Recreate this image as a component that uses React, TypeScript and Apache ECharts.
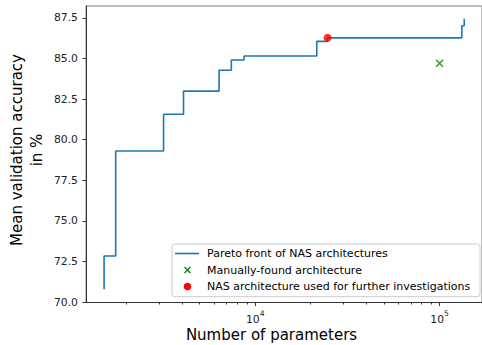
import React, { useEffect, useRef } from "react";
import * as echarts from "echarts";

// Pareto front (step, post) — number of parameters vs mean validation accuracy (%)
const paretoParams = [1514, 1514, 1750, 3183, 4083, 6365, 7420, 8690, 21560, 24700, 132000, 136000];
const paretoAccuracy = [70.78, 72.83, 79.3, 81.56, 82.99, 84.27, 84.9, 85.15, 86.05, 86.27, 87.01, 87.45];

const manualParams = [100000];
const manualAccuracy = [84.7];

const chosenParams = [24700];
const chosenAccuracy = [86.27];

const yTicks = [70, 72.5, 75, 77.5, 80, 82.5, 85, 87.5];
const xMajorTicks = [10000, 100000];
const xMinorTicks = [2000, 3000, 4000, 5000, 6000, 7000, 8000, 9000, 20000, 30000, 40000, 50000, 60000, 70000, 80000, 90000];

const legendLabels = [
  "Pareto front of NAS architectures",
  "Manually-found architecture",
  "NAS architecture used for further investigations",
];

const FONT = "DejaVu Sans";
const CROSS = "path://M0,0L10,10M10,0L0,10";

export default function App() {
  const ref = useRef<HTMLDivElement>(null);
  useEffect(() => {
    document.body.style.margin = "0";
    if (!ref.current) return;
    const chart = echarts.init(ref.current, undefined, { renderer: "svg" });
    const pareto = paretoParams.map((x, i) => [x, paretoAccuracy[i]]);
    const manual = manualParams.map((x, i) => [x, manualAccuracy[i]]);
    const chosen = chosenParams.map((x, i) => [x, chosenAccuracy[i]]);
    const legendRows = [253.5, 270, 286.5];
    chart.setOption({
      animation: false,
      grid: {
        left: 86,
        top: 6,
        right: -2,
        bottom: 42.5,
        show: true,
        borderColor: "#7f7f7f",
        borderWidth: 1,
        backgroundColor: "transparent",
      },
      xAxis: [
        {
          type: "log",
          logBase: 10,
          min: 1208,
          max: 169800,
          axisLine: { lineStyle: { color: "#333", width: 1 } },
          axisTick: { show: true, length: 3.5, customValues: xMajorTicks, lineStyle: { color: "#333" } },
          axisLabel: {
            customValues: xMajorTicks,
            margin: 7,
            fontFamily: FONT,
            fontSize: 10.8,
            color: "#222",
            formatter: (v: number) => {
              const e = String(Math.round(Math.log10(v)));
              return "{b|10}{s|" + e + "}";
            },
            rich: {
              b: { fontFamily: FONT, fontSize: 10.8, color: "#222", lineHeight: 15, verticalAlign: "bottom" },
              s: { fontFamily: FONT, fontSize: 7.6, color: "#222", lineHeight: 9, verticalAlign: "top" },
            },
          },
          splitLine: { show: false },
          minorTick: { show: false },
        },
        {
          type: "log",
          logBase: 10,
          min: 1208,
          max: 169800,
          position: "bottom",
          axisLine: { show: false },
          axisTick: { show: true, length: 2, customValues: xMinorTicks, lineStyle: { color: "#333" } },
          axisLabel: { show: false },
          splitLine: { show: false },
        },
      ],
      yAxis: {
        type: "value",
        min: 69.97,
        max: 88.23,
        axisLine: { show: true, lineStyle: { color: "#333", width: 1 } },
        axisTick: { show: true, length: 3.5, customValues: yTicks, lineStyle: { color: "#333" } },
        axisLabel: {
          customValues: yTicks,
          margin: 8,
          fontFamily: FONT,
          fontSize: 10.8,
          color: "#222",
          formatter: (v: number) => v.toFixed(1),
        },
        splitLine: { show: false },
      },
      series: [
        {
          type: "line",
          name: legendLabels[0],
          data: pareto,
          step: "end",
          symbol: "none",
          lineStyle: { color: "#1f77b4", width: 1.6 },
          z: 2,
        },
        {
          type: "scatter",
          name: legendLabels[1],
          data: manual,
          symbol: CROSS,
          symbolSize: 7,
          itemStyle: { color: "transparent", borderColor: "#008000", borderWidth: 1.4 },
          z: 3,
        },
        {
          type: "scatter",
          name: legendLabels[2],
          data: chosen,
          symbol: "circle",
          symbolSize: 8,
          itemStyle: { color: "#ff0000" },
          z: 4,
        },
      ],
      graphic: [
        {
          type: "text",
          x: 17,
          y: 150,
          rotation: Math.PI / 2,
          style: {
            text: "Mean validation accuracy",
            font: `15px '${FONT}'`,
            fill: "#000",
            textAlign: "center",
            textVerticalAlign: "middle",
          },
        },
        {
          type: "text",
          x: 37,
          y: 150,
          rotation: Math.PI / 2,
          style: {
            text: "in %",
            font: `15px '${FONT}'`,
            fill: "#000",
            textAlign: "center",
            textVerticalAlign: "middle",
          },
        },
        {
          type: "text",
          x: 271.5,
          y: 335,
          style: {
            text: "Number of parameters",
            font: `15px '${FONT}'`,
            fill: "#000",
            textAlign: "center",
            textVerticalAlign: "middle",
          },
        },
        {
          type: "rect",
          shape: { x: 172, y: 244, width: 308, height: 52.7, r: 3 },
          style: { fill: "rgba(255,255,255,0.8)", stroke: "#cccccc", lineWidth: 1 },
          z: 10,
        },
        {
          type: "line",
          shape: { x1: 175, y1: legendRows[0], x2: 199, y2: legendRows[0] },
          style: { stroke: "#1f77b4", lineWidth: 1.6 },
          z: 11,
        },
        {
          type: "line",
          shape: { x1: 184.5, y1: legendRows[1] - 3, x2: 190.5, y2: legendRows[1] + 3 },
          style: { stroke: "#008000", lineWidth: 1.3 },
          z: 11,
        },
        {
          type: "line",
          shape: { x1: 190.5, y1: legendRows[1] - 3, x2: 184.5, y2: legendRows[1] + 3 },
          style: { stroke: "#008000", lineWidth: 1.3 },
          z: 11,
        },
        {
          type: "circle",
          shape: { cx: 187.5, cy: legendRows[2], r: 3.8 },
          style: { fill: "#ff0000" },
          z: 11,
        },
        ...legendLabels.map((t, i) => ({
          type: "text",
          x: 207,
          y: legendRows[i],
          z: 11,
          style: {
            text: t,
            font: `11px '${FONT}'`,
            fill: "#000",
            textAlign: "left",
            textVerticalAlign: "middle",
          },
        })),
      ],
    });
    return () => chart.dispose();
  }, []);
  return <div ref={ref} style={{ width: 482, height: 345 }} />;
}
